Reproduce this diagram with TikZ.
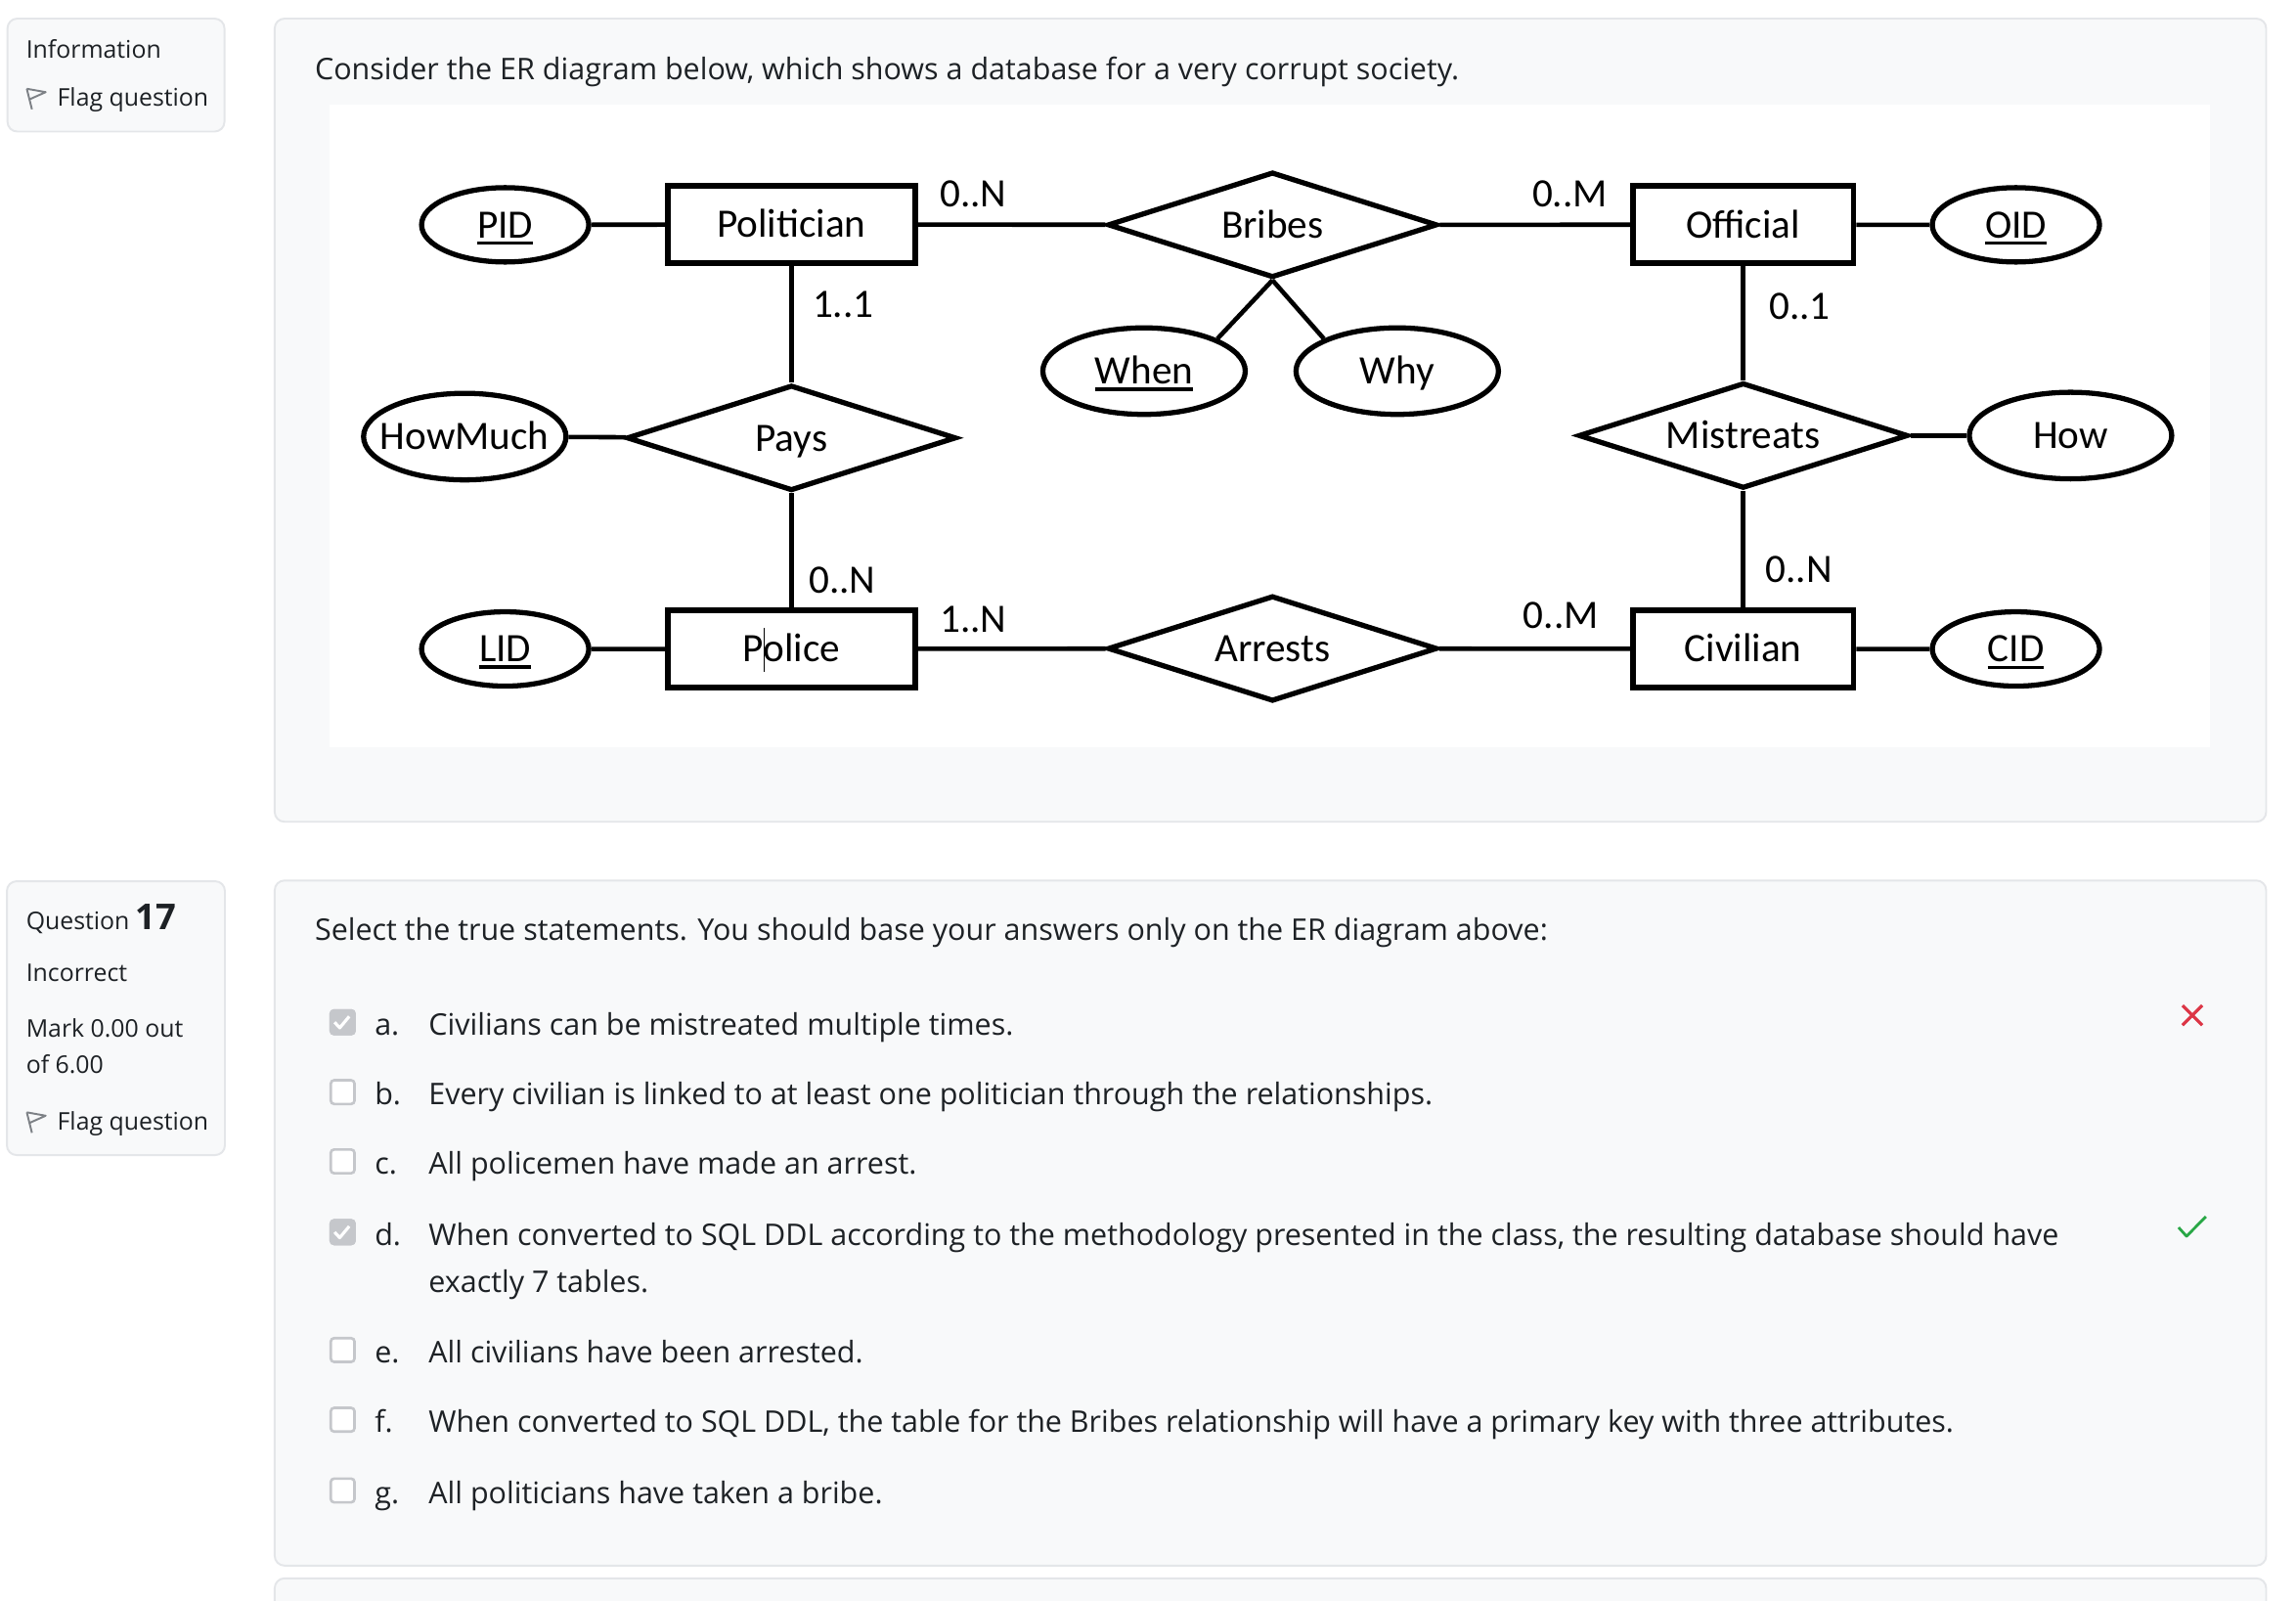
\documentclass[tikz,border=0pt]{standalone}
\usepackage{fontspec}
\setmainfont{Open Sans}
\newfontfamily\erfont{Carlito}
\usetikzlibrary{shapes.geometric}

\definecolor{panelbg}{HTML}{F8F9FA}
\definecolor{panelline}{HTML}{E4E6E9}
\definecolor{textdark}{HTML}{1D2125}
\definecolor{boxgray}{HTML}{C5C7CB}
\definecolor{flaggray}{HTML}{7D8186}
\definecolor{xred}{HTML}{DC3545}
\definecolor{okgreen}{HTML}{28A745}

\newcommand{\bodysize}{\fontsize{8.67pt}{11pt}\selectfont}
\newcommand{\sidesize}{\fontsize{7.07pt}{9pt}\selectfont}
\newcommand{\ersize}{\fontsize{11.72pt}{14pt}\selectfont}
\newcommand{\pk}[1]{\vtop{\hbox{#1}\kern0.95pt\hrule height 0.95pt}}

\begin{document}
\begin{tikzpicture}[x=0.14974mm,y=-0.14974mm]
\tikzstyle{panel}=[fill=panelbg, draw=panelline, line width=0.55pt, rounded corners=1mm]
\tikzstyle{erbase}=[draw, inner sep=0pt, font=\erfont\ersize, text height=0.82em, text depth=0.06em]
\tikzstyle{entity}=[erbase, rectangle, line width=1.7pt, minimum height=7.9mm]
\tikzstyle{attr}=[erbase, ellipse, line width=1.5pt, minimum width=20.7mm, minimum height=8.85mm]
\tikzstyle{keyattr}=[attr, minimum width=17.1mm, minimum height=7.6mm]
\tikzstyle{rel}=[erbase, diamond, aspect=3, line width=1.5pt, minimum width=33.7mm, minimum height=10.8mm]
\tikzstyle{card}=[anchor=base west, inner sep=0pt, font=\erfont\ersize]
\tikzstyle{link}=[line width=1.3pt]
\tikzstyle{txt}=[anchor=base west, inner sep=0pt, text=textdark, font=\bodysize]
\tikzstyle{sidetxt}=[txt, font=\sidesize]
\tikzstyle{checkbox}=[draw=boxgray, fill=white, line width=0.75pt, rounded corners=0.35mm, minimum size=2.43mm, inner sep=0pt]

\useasboundingbox (0,0) rectangle (1568,1093);
\fill[white] (0,0) rectangle (1568,1093);

\draw[panel] (5.1,12.7) rectangle (153.3,89.8);
\draw[panel] (187.6,12.7) rectangle (1547.6,561.1);
\fill[white] (224.9,71.7) rectangle (1509.3,510.4);
\draw[panel] (4.7,601.7) rectangle (153.6,788.7);
\draw[panel] (187.6,601.2) rectangle (1547.6,1069);
\draw[panel] (187.6,1077.7) rectangle (1547.6,1120);

\node[sidetxt] (info) at (17.4,39.8) {Information};
\node[sidetxt] (flaga) at (38.7,72.4) {Flag question};
\node[sidetxt] (qlabel) at (17.4,635) {Question {\bfseries\fontsize{10.35pt}{12pt}\selectfont 17}};
\node[sidetxt] (state) at (17.4,669.8) {Incorrect};
\node[sidetxt] (mark) at (17.4,707.9) {Mark 0.00 out};
\node[sidetxt] (markb) at (17.4,732.6) {of 6.00};
\node[sidetxt] (flagb) at (38.7,771.3) {Flag question};
\foreach \fy in {72.4,771.3} {
\draw[flaggray, line width=0.55pt, line join=round] (18.3,\fy-11.8) -- (21.8,\fy+2.2);
\draw[flaggray, line width=0.55pt, line join=round] (18.3,\fy-11.8) -- (31.2,\fy-9.5) -- (20,\fy-4.5);
}

\node[txt] (intro) at (214.6,54.3) {Consider the ER diagram below, which shows a database for a very corrupt society.};

\node[keyattr] (pid) at (345,153.5) {\pk{PID}};
\node[entity, minimum width=25.3mm] (politician) at (540.5,153.3) {Politician};
\node[rel] (bribes) at (869,153.5) {Bribes};
\node[entity, minimum width=22.55mm] (official) at (1190.5,153.4) {Official};
\node[keyattr] (oid) at (1376.7,153.5) {\pk{OID}};
\node[attr] (when) at (781.3,253.4) {\pk{When}};
\node[attr] (why) at (954.2,253.4) {Why};
\node[attr] (howmuch) at (317.4,298.1) {\makebox[0pt]{HowMuch}};
\node[rel] (pays) at (540.5,299) {Pays};
\node[rel] (mistreats) at (1190.5,297.4) {Mistreats};
\node[attr] (how) at (1414,297.4) {How};
\node[keyattr] (lid) at (345,443.1) {\pk{LID}};
\node[entity, minimum width=25.3mm] (police) at (540.5,443.1) {P\rlap{\rule[-1mm]{0.3pt}{4.46mm}}olice};
\node[rel] (arrests) at (869,442.8) {Arrests};
\node[entity, minimum width=22.55mm] (civilian) at (1190.5,443.1) {Civilian};
\node[keyattr] (cid) at (1376.7,443.1) {\pk{CID}};

\draw[link] (pid)--(politician)--(bribes)--(official)--(oid);
\draw[link] (lid)--(police)--(arrests)--(civilian)--(cid);
\draw[link] (politician)--(pays)--(police);
\draw[link] (official)--(mistreats)--(civilian);
\draw[link] (howmuch)--(pays);
\draw[link] (mistreats)--(how);
\draw[link] (bribes.south)--(when.north east);
\draw[link] (bribes.south)--(why.north west);

\node[card] (c1) at (641.4,141.2) {0..N};
\node[card] (c2) at (1046,141.2) {0..M};
\node[card] (c3) at (554.5,216.5) {1..1};
\node[card] (c4) at (1207.8,218.3) {0..1};
\node[card] (c5) at (552,404.7) {0..N};
\node[card] (c6) at (1205.3,397.5) {0..N};
\node[card] (c7) at (641.4,431.5) {1..N};
\node[card] (c8) at (1039.9,429) {0..M};

\node[txt] (prompt) at (214.6,642.4) {Select the true statements. You should base your answers only on the ER diagram above:};

\foreach \l/\y/\t in {a/706.8/{Civilians can be mistreated multiple times.},
  b/754.5/{Every civilian is linked to at least one politician through the relationships.},
  c/801.8/{All policemen have made an arrest.},
  d/850.1/{When converted to SQL DDL according to the methodology presented in the class, the resulting database should have},
  e/930.6/{All civilians have been arrested.},
  f/978.2/{When converted to SQL DDL, the table for the Bribes relationship will have a primary key with three attributes.},
  g/1026.5/{All politicians have taken a bribe.}} {
\node[checkbox] (box\l) at (234,\y-8.8) {};
\node[txt] (lab\l) at (255.5,\y) {\l.};
\node[txt] (opt\l) at (292.3,\y) {\t};
}
\node[txt] (optd2) at (292.3,882.3) {exactly 7 tables.};

\foreach \l in {a,d} {
\node[checkbox, draw=boxgray, fill=boxgray] (tick\l) at (box\l) {};
\draw[white, line width=0.9pt, line join=round] ([shift={(-5.5,0)}]tick\l.center) -- ++(3.5,3.8) -- ++(6.5,-7.8);
}

\draw[xred, line width=0.9pt] (1490.5,686.5) -- (1504,700) (1490.5,700) -- (1504,686.5);
\draw[okgreen, line width=0.8pt, line join=round] (1487.8,838.1) -- (1493.2,844.1) -- (1506.5,830.7);
\end{tikzpicture}
\end{document}
